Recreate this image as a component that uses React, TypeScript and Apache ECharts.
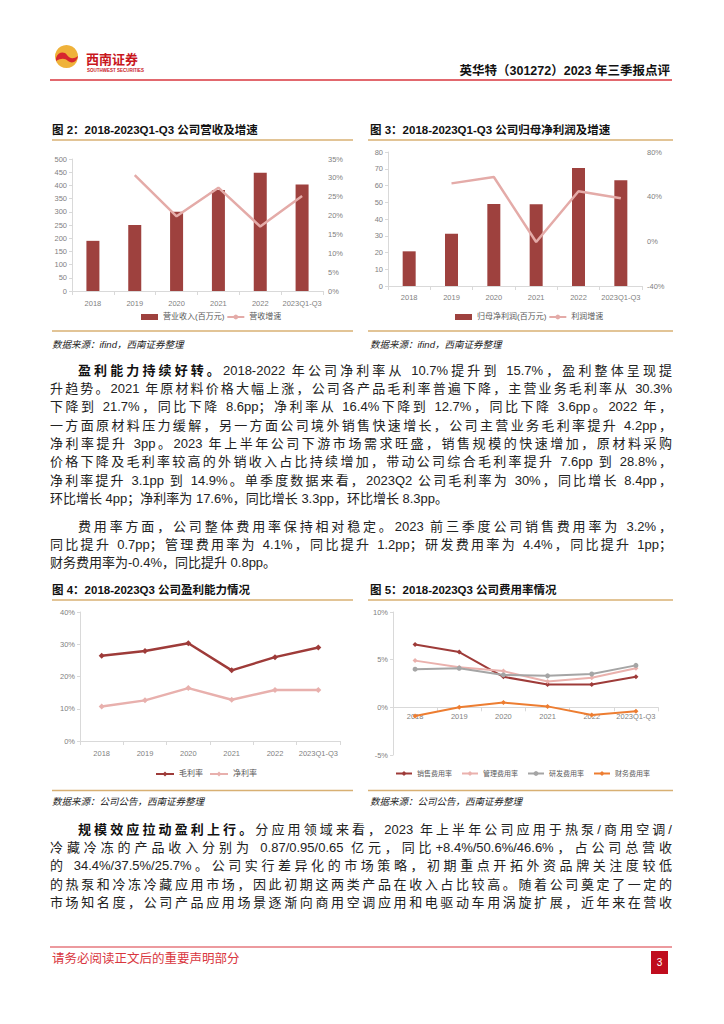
import React, { useEffect, useRef } from "react";
import * as echarts from "echarts";

// ---------- data ----------
const years = ["2018", "2019", "2020", "2021", "2022", "2023Q1-Q3"];
const revenue = [190, 250, 300, 383, 448, 403];
const revenueGrowth = [null, 30.7, 19.8, 27.4, 17.1, 25.2];
const netProfit = [20.7, 31.2, 49.0, 48.8, 70.4, 63.1];
const profitGrowth = [null, 51.9, 57.6, -0.6, 44.8, 38.5];
const grossMargin = [26.4, 27.9, 30.3, 21.9, 26.0, 29.0];
const netMargin = [10.7, 12.6, 16.4, 12.8, 15.8, 15.8];
const sellingRate = [6.6, 5.8, 3.2, 2.4, 2.4, 3.2];
const adminRate = [4.9, 4.2, 3.8, 2.7, 3.1, 4.1];
const rdRate = [4.0, 4.1, 3.4, 3.3, 3.5, 4.4];
const financeRate = [-0.9, 0.0, 0.5, 0.1, -0.8, -0.4];

// ---------- text ----------
const para1 = [
  "2018-2022 年公司净利率从 10.7%提升到 15.7%，盈利整体呈现提",
  "升趋势。2021 年原材料价格大幅上涨，公司各产品毛利率普遍下降，主营业务毛利率从 30.3%",
  "下降到 21.7%，同比下降 8.6pp；净利率从 16.4%下降到 12.7%，同比下降 3.6pp。2022 年，",
  "一方面原材料压力缓解，另一方面公司境外销售快速增长，公司主营业务毛利率提升 4.2pp，",
  "净利率提升 3pp。2023 年上半年公司下游市场需求旺盛，销售规模的快速增加，原材料采购",
  "价格下降及毛利率较高的外销收入占比持续增加，带动公司综合毛利率提升 7.6pp 到 28.8%，",
  "净利率提升 3.1pp 到 14.9%。单季度数据来看，2023Q2 公司毛利率为 30%，同比增长 8.4pp，",
  "环比增长 4pp；净利率为 17.6%，同比增长 3.3pp，环比增长 8.3pp。",
];
const para2 = [
  "费用率方面，公司整体费用率保持相对稳定。2023 前三季度公司销售费用率为 3.2%，",
  "同比提升 0.7pp；管理费用率为 4.1%，同比提升 1.2pp；研发费用率为 4.4%，同比提升 1pp；",
  "财务费用率为-0.4%，同比提升 0.8pp。",
];
const para3 = [
  "分应用领域来看，2023 年上半年公司应用于热泵/商用空调/",
  "冷藏冷冻的产品收入分别为 0.87/0.95/0.65 亿元，同比+8.4%/50.6%/46.6%，占公司总营收",
  "的 34.4%/37.5%/25.7%。公司实行差异化的市场策略，初期重点开拓外资品牌关注度较低",
  "的热泵和冷冻冷藏应用市场，因此初期这两类产品在收入占比较高。随着公司奠定了一定的",
  "市场知名度，公司产品应用场景逐渐向商用空调应用和电驱动车用涡旋扩展，近年来在营收",
];

const LOGO_PATH =
  "M1,13 C3,7 9,6 12,10 C14,13 18,15 23,11 C22,17 17,19 13,16 C10,13 6,13 1,16 Z";

const FONT = '"Liberation Sans","Noto Sans CJK SC",sans-serif';
const RED = "#c8161d";
const TAN = "#d8b073";
const BAR = "#9e413e";
const PINK = "#e4aba8";

const axisLabelStyle = {
  fontSize: 7.5,
  color: "#7f7f7f",
  fontFamily: "Liberation Sans",
};

function xAxis(gridIndex: number, margin: number, offset: number) {
  return {
    gridIndex,
    type: "category",
    data: years,
    position: "bottom",
    offset,
    axisLine: { onZero: false, lineStyle: { color: "#d9d9d9", width: 1 } },
    axisTick: { show: true, length: 4, lineStyle: { color: "#d9d9d9" } },
    axisLabel: { ...axisLabelStyle, margin, interval: 0 },
  };
}

function yAxis(
  gridIndex: number,
  min: number,
  max: number,
  interval: number,
  position: string,
  pct: boolean,
  showLine: boolean
) {
  return {
    gridIndex,
    type: "value",
    min,
    max,
    interval,
    position,
    axisLine: { show: showLine, lineStyle: { color: "#d9d9d9" } },
    axisTick: { show: showLine, length: 3, lineStyle: { color: "#d9d9d9" } },
    splitLine: { show: false },
    axisLabel: {
      ...axisLabelStyle,
      margin: 5,
      formatter: pct ? "{value}%" : "{value}",
    },
  };
}

function txt(x: number, y: number, text: string, style: any) {
  return {
    type: "text",
    x,
    y,
    style: {
      text,
      fontFamily: FONT,
      verticalAlign: "middle",
      ...style,
    },
  };
}

function hline(x1: number, x2: number, y: number, color: string, w: number) {
  return {
    type: "line",
    shape: { x1, y1: y, x2, y2: y },
    style: { stroke: color, lineWidth: w },
  };
}

const legendText = { fontSize: 8, color: "#595959", fontFamily: FONT };

// grid 4 geometry: value axis -5..10 over 143px; zero line sits 5/15 of height above bottom
const G4_HEIGHT = 143;
const G4_ZERO_OFFSET = -(G4_HEIGHT * 5) / 15;

function buildOption() {
  return {
    animation: false,
    backgroundColor: "#ffffff",
    grid: [
      { left: 72, top: 159, width: 251, height: 132 },
      { left: 388, top: 152, width: 254, height: 134 },
      { left: 80, top: 612, width: 260, height: 129 },
      { left: 393, top: 612, width: 265, height: G4_HEIGHT },
    ],
    xAxis: [
      xAxis(0, 8, 0),
      xAxis(1, 7, 0),
      xAxis(2, 8, 0),
      xAxis(3, 5, G4_ZERO_OFFSET),
    ],
    yAxis: [
      yAxis(0, 0, 500, 50, "left", false, true),
      yAxis(0, 0, 35, 5, "right", true, false),
      yAxis(1, 0, 80, 10, "left", false, true),
      yAxis(1, -40, 80, 40, "right", true, false),
      yAxis(2, 0, 40, 10, "left", true, true),
      yAxis(3, -5, 10, 5, "left", true, true),
    ],
    legend: [
      {
        left: 141,
        top: 313,
        itemWidth: 17,
        itemHeight: 6,
        itemGap: 2,
        padding: 0,
        textStyle: legendText,
        data: [{ name: "营业收入(百万元)", icon: "rect" }, { name: "营收增速" }],
      },
      {
        left: 455,
        top: 313,
        itemWidth: 17,
        itemHeight: 6,
        itemGap: 2,
        padding: 0,
        textStyle: legendText,
        data: [{ name: "归母净利润(百万元)", icon: "rect" }, { name: "利润增速" }],
      },
      {
        left: 155,
        top: 770,
        itemWidth: 18,
        itemHeight: 6,
        itemGap: 6,
        padding: 0,
        textStyle: legendText,
        data: ["毛利率", "净利率"],
      },
      {
        left: 395,
        top: 770,
        itemWidth: 16,
        itemHeight: 6,
        itemGap: 9,
        padding: 0,
        textStyle: { ...legendText, fontSize: 7 },
        data: ["销售费用率", "管理费用率", "研发费用率", "财务费用率"],
      },
    ],
    series: [
      {
        name: "营业收入(百万元)",
        type: "bar",
        xAxisIndex: 0,
        yAxisIndex: 0,
        barWidth: 13,
        itemStyle: { color: BAR },
        data: revenue,
      },
      {
        name: "营收增速",
        type: "line",
        xAxisIndex: 0,
        yAxisIndex: 1,
        symbol: "none",
        lineStyle: { color: PINK, width: 2.5 },
        itemStyle: { color: PINK },
        data: revenueGrowth,
      },
      {
        name: "归母净利润(百万元)",
        type: "bar",
        xAxisIndex: 1,
        yAxisIndex: 2,
        barWidth: 13,
        itemStyle: { color: BAR },
        data: netProfit,
      },
      {
        name: "利润增速",
        type: "line",
        xAxisIndex: 1,
        yAxisIndex: 3,
        symbol: "none",
        lineStyle: { color: PINK, width: 2.5 },
        itemStyle: { color: PINK },
        data: profitGrowth,
      },
      {
        name: "毛利率",
        type: "line",
        xAxisIndex: 2,
        yAxisIndex: 4,
        symbol: "diamond",
        symbolSize: 6,
        lineStyle: { color: "#9e3b39", width: 2.5 },
        itemStyle: { color: "#9e3b39" },
        data: grossMargin,
      },
      {
        name: "净利率",
        type: "line",
        xAxisIndex: 2,
        yAxisIndex: 4,
        symbol: "diamond",
        symbolSize: 6,
        lineStyle: { color: "#e8b0ad", width: 2.5 },
        itemStyle: { color: "#e8b0ad" },
        data: netMargin,
      },
      {
        name: "销售费用率",
        type: "line",
        xAxisIndex: 3,
        yAxisIndex: 5,
        symbol: "diamond",
        symbolSize: 5,
        lineStyle: { color: "#9e3b39", width: 2 },
        itemStyle: { color: "#9e3b39" },
        data: sellingRate,
      },
      {
        name: "管理费用率",
        type: "line",
        xAxisIndex: 3,
        yAxisIndex: 5,
        symbol: "diamond",
        symbolSize: 5,
        lineStyle: { color: "#eab1ad", width: 2 },
        itemStyle: { color: "#eab1ad" },
        data: adminRate,
      },
      {
        name: "研发费用率",
        type: "line",
        xAxisIndex: 3,
        yAxisIndex: 5,
        symbol: "circle",
        symbolSize: 5,
        lineStyle: { color: "#a5a5a5", width: 2 },
        itemStyle: { color: "#a5a5a5" },
        data: rdRate,
      },
      {
        name: "财务费用率",
        type: "line",
        xAxisIndex: 3,
        yAxisIndex: 5,
        symbol: "diamond",
        symbolSize: 5,
        lineStyle: { color: "#ed7d31", width: 2 },
        itemStyle: { color: "#ed7d31" },
        data: financeRate,
      },
    ],
    graphic: [
      // header logo
      {
        type: "circle",
        shape: { cx: 66.5, cy: 56.5, r: 11.5 },
        style: { fill: "#efb23a" },
      },
      {
        type: "swLogo",
        x: 55,
        y: 45,
        scaleX: 1,
        scaleY: 1,
        style: { fill: "#d7282f" },
      },
      txt(86, 58.5, "西南证券", {
        fontSize: 13,
        fontWeight: "bold",
        fill: RED,
        fontFamily: '"Noto Sans CJK SC"',
      }),
      txt(87, 70.5, "SOUTHWEST SECURITIES", {
        fontSize: 4.5,
        fontWeight: "bold",
        fill: RED,
        fontFamily: "Liberation Sans",
      }),
      txt(670, 71, "英华特（301272）2023 年三季报点评", {
        fontSize: 12.5,
        fontWeight: "bold",
        fill: "#111",
        align: "right",
      }),
      hline(50, 672, 80, "#d9363e", 1.5),
      // figure titles
      txt(52, 130, "图 2：2018-2023Q1-Q3 公司营收及增速", {
        fontSize: 11.5,
        fontWeight: "bold",
        fill: "#111",
      }),
      txt(370, 130, "图 3：2018-2023Q1-Q3 公司归母净利润及增速", {
        fontSize: 11.5,
        fontWeight: "bold",
        fill: "#111",
      }),
      txt(52, 590, "图 4：2018-2023Q3 公司盈利能力情况", {
        fontSize: 11.5,
        fontWeight: "bold",
        fill: "#111",
      }),
      txt(370, 590, "图 5：2018-2023Q3 公司费用率情况", {
        fontSize: 11.5,
        fontWeight: "bold",
        fill: "#111",
      }),
      hline(52, 353, 140, TAN, 1.5),
      hline(368, 673, 140, TAN, 1.5),
      hline(52, 353, 331, TAN, 1.5),
      hline(368, 673, 331, TAN, 1.5),
      hline(52, 353, 600, TAN, 1.5),
      hline(368, 673, 600, TAN, 1.5),
      hline(52, 353, 790.5, TAN, 1.5),
      hline(368, 673, 790.5, TAN, 1.5),
      // sources
      txt(52, 344, "数据来源：ifind，西南证券整理", {
        fontSize: 9.5,
        fontStyle: "italic",
        fill: "#222",
      }),
      txt(370, 344, "数据来源：ifind，西南证券整理", {
        fontSize: 9.5,
        fontStyle: "italic",
        fill: "#222",
      }),
      txt(52, 801, "数据来源：公司公告，西南证券整理", {
        fontSize: 9.5,
        fontStyle: "italic",
        fill: "#222",
      }),
      txt(370, 801, "数据来源：公司公告，西南证券整理", {
        fontSize: 9.5,
        fontStyle: "italic",
        fill: "#222",
      }),
      // footer
      hline(50, 672, 947, "#d9363e", 1.2),
      txt(52, 959, "请务必阅读正文后的重要声明部分", {
        fontSize: 12.5,
        fill: "#d9363e",
      }),
      {
        type: "rect",
        shape: { x: 651, y: 951, width: 17, height: 23 },
        style: { fill: "#c00d1e" },
      },
      txt(659.5, 962.5, "3", {
        fontSize: 10,
        fill: "#ffffff",
        align: "center",
        fontFamily: "Liberation Sans",
      }),
    ],
  };
}

type LineSpec = {
  y: number;
  text: string;
  lead?: string;
  indent?: boolean;
  justify: boolean;
};

function buildLines(
  lines: string[],
  y0: number,
  step: number,
  lead: string | undefined,
  lastJustify: boolean
): LineSpec[] {
  return lines.map((t, i) => ({
    y: y0 + i * step,
    text: t,
    lead: i === 0 ? lead : undefined,
    indent: i === 0,
    justify: i < lines.length - 1 || lastJustify,
  }));
}

const LINE_H = 18.3;

export default function App() {
  const ref = useRef<HTMLDivElement>(null);

  useEffect(() => {
    if (!ref.current) return;
    try {
      echarts.graphic.registerShape(
        "swLogo",
        echarts.graphic.extendPath(LOGO_PATH, {}) as any
      );
    } catch (e) {
      /* ignore */
    }
    const chart = echarts.init(ref.current, null, {
      renderer: "svg",
      width: 724,
      height: 1024,
    });
    chart.setOption(buildOption() as any);
    return () => chart.dispose();
  }, []);

  const allLines: LineSpec[] = [
    ...buildLines(para1, 371, LINE_H, "盈利能力持续好转。", false),
    ...buildLines(para2, 527, LINE_H, undefined, false),
    ...buildLines(para3, 830, LINE_H, "规模效应拉动盈利上行。", true),
  ];

  return (
    <div
      lang="zh-CN"
      style={{
        position: "absolute",
        left: 0,
        top: 0,
        width: 724,
        height: 1024,
        background: "#fff",
        overflow: "hidden",
      }}
    >
      <div
        ref={ref}
        style={{ position: "absolute", left: 0, top: 0, width: 724, height: 1024 }}
      />
      {allLines.map((l, i) => (
        <div
          key={i}
          style={{
            position: "absolute",
            left: l.indent ? 78 : 50,
            width: l.indent ? 594 : 622,
            top: l.y - LINE_H / 2,
            height: LINE_H,
            lineHeight: LINE_H + "px",
            fontSize: 13,
            fontFamily: FONT,
            color: "#222",
            textAlign: l.justify ? "justify" : "left",
            textAlignLast: l.justify ? "justify" : "left",
            whiteSpace: "normal",
            overflow: "visible",
          } as any}
        >
          {l.lead ? <b style={{ fontWeight: 700, color: "#111" }}>{l.lead}</b> : null}
          {l.text}
        </div>
      ))}
    </div>
  );
}
